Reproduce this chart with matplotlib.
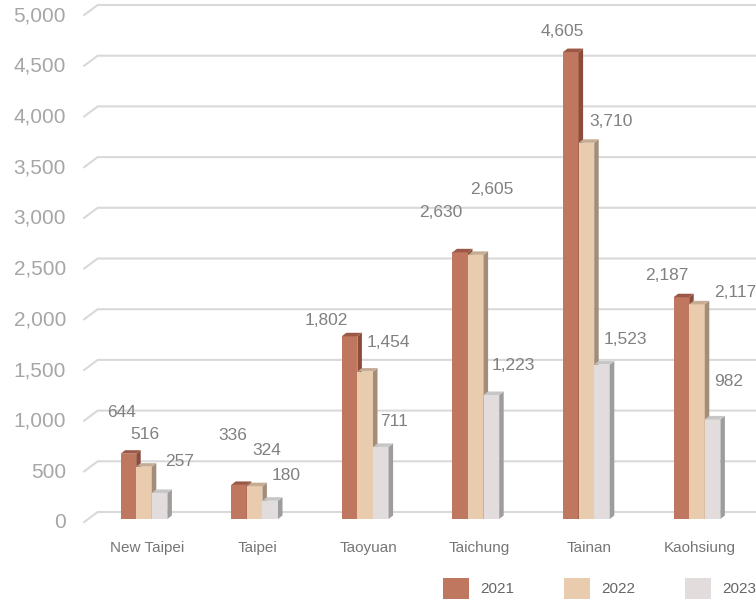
import matplotlib.pyplot as plt
import numpy as np
from matplotlib import font_manager
from matplotlib.patches import Patch, Polygon

cities = ["New Taipei", "Taipei", "Taoyuan", "Taichung", "Tainan", "Kaohsiung"]
years = ["2021", "2022", "2023"]
cases_2021 = [644, 336, 1802, 2630, 4605, 2187]
cases_2022 = [516, 324, 1454, 2605, 3710, 2117]
cases_2023 = [257, 180, 711, 1223, 1523, 982]
y_ticks = list(range(0, 5001, 500))

series = [cases_2021, cases_2022, cases_2023]

# front / right side / top shading of the pseudo-3D columns
front_colors = ["#bf7760", "#e9cbae", "#e2dcdc"]
side_colors = ["#8b4c3c", "#a38d76", "#9d9d9d"]
top_colors = ["#9c5846", "#c5ac92", "#c6c6c6"]

# where each value label sits, in pixels from the top centre of its column
label_nudge = [
    [(-7, 41), (-6, 49), (-23, 16), (-19, 40), (-8, 21), (-15, 22)],
    [(1, 32), (12, 36), (23, 29), (16, 65), (25, 21), (38, 12)],
    [(20, 31), (16, 25), (13, 25), (22, 29), (23, 25), (16, 38)],
]

W, H, DPI = 756, 601, 100
LEFT_PX, BASE_PX, SLOT_PX = 88.7, 519, 110.6
BAR_W = 0.141
DEPTH = (4.5, 3.5)          # column depth in pixels
WALL_BACK = (9.0, 7.0)      # back wall offset from the column plane
WALL_FRONT = (-5.4, -3.7)   # front edge of the side wall

installed = {f.name for f in font_manager.fontManager.ttflist}
has_narrow = "Liberation Sans Narrow" in installed
narrow = "Liberation Sans Narrow" if has_narrow else "Liberation Sans"
cat_size = 12.5 if has_narrow else 11
legend_size = 13 if has_narrow else 11
plt.rcParams["font.family"] = ["Liberation Sans", "DejaVu Sans"]

fig = plt.figure(figsize=(W / DPI, H / DPI), dpi=DPI)
ax = fig.add_axes([LEFT_PX / W, (H - BASE_PX) / H, (W - LEFT_PX) / W, 507 / H])
x_right = (W - LEFT_PX) / SLOT_PX - 0.5
ax.set_xlim(-0.5, x_right)
ax.set_ylim(0, 5000)
ax.set_axis_off()


def shifted(x, y, dx, dy):
    px = ax.transData.transform((x, y))
    return ax.transData.inverted().transform(px + np.array([dx, dy]))


# gridlines: short diagonal on the side wall, then across the back wall
for v in y_ticks:
    p0 = shifted(-0.5, v, *WALL_FRONT)
    p1 = shifted(-0.5, v, *WALL_BACK)
    p2 = shifted(x_right + 0.3, v, *WALL_BACK)
    ax.plot([p0[0], p1[0], p2[0]], [p0[1], p1[1], p2[1]], color="#d9d9d9",
            lw=1.5, clip_on=False, zorder=1, solid_capstyle="butt")
    ax.annotate(f"{v:,}", xy=(-0.5, v), xytext=(-22.7, -3.7), textcoords="offset pixels",
                ha="right", va="center", fontsize=15, color="#a6a6a6", annotation_clip=False)

x = np.arange(len(cities))
for j, vals in enumerate(series):
    xs = x + (j - 1) * BAR_W
    z = 3 + j
    ax.bar(xs, vals, width=BAR_W, color=front_colors[j], linewidth=0, zorder=z)
    for xi, v, (ndx, ndy) in zip(xs, vals, label_nudge[j]):
        x0, x1 = xi - BAR_W / 2, xi + BAR_W / 2
        side = [(x1, 0), (x1, v), tuple(shifted(x1, v, *DEPTH)), tuple(shifted(x1, 0, *DEPTH))]
        top = [(x0, v), (x1, v), tuple(shifted(x1, v, *DEPTH)), tuple(shifted(x0, v, *DEPTH))]
        ax.add_patch(Polygon(side, closed=True, facecolor=side_colors[j], linewidth=0, zorder=z))
        ax.add_patch(Polygon(top, closed=True, facecolor=top_colors[j], linewidth=0, zorder=z))
        ax.annotate(f"{v:,}", xy=(xi, v), xytext=(ndx, ndy), textcoords="offset pixels",
                    ha="center", va="center", fontsize=12.5, color="#808080",
                    annotation_clip=False, zorder=10)

for xi, name in zip(x, cities):
    ax.annotate(name, xy=(xi, 0), xytext=(3, -29), textcoords="offset pixels",
                ha="center", va="center", fontsize=cat_size, color="#767676",
                family=narrow, annotation_clip=False)

# legend swatches 26 px wide, text 11 px after, next swatch every ~121 px
fs_px = legend_size * DPI / 72
handles = [Patch(facecolor=c, edgecolor="none") for c in front_colors]
fig.legend(handles, years, loc="upper left", bbox_to_anchor=(443 / W, 1 - 578 / H),
           bbox_transform=fig.transFigure, ncol=3, frameon=False, borderpad=0,
           borderaxespad=0, handlelength=26 / fs_px, handleheight=26 / fs_px,
           handletextpad=11 / fs_px, columnspacing=50 / fs_px, labelcolor="#666666",
           prop={"family": narrow, "size": legend_size})

fig.savefig("out.png", dpi=DPI)
